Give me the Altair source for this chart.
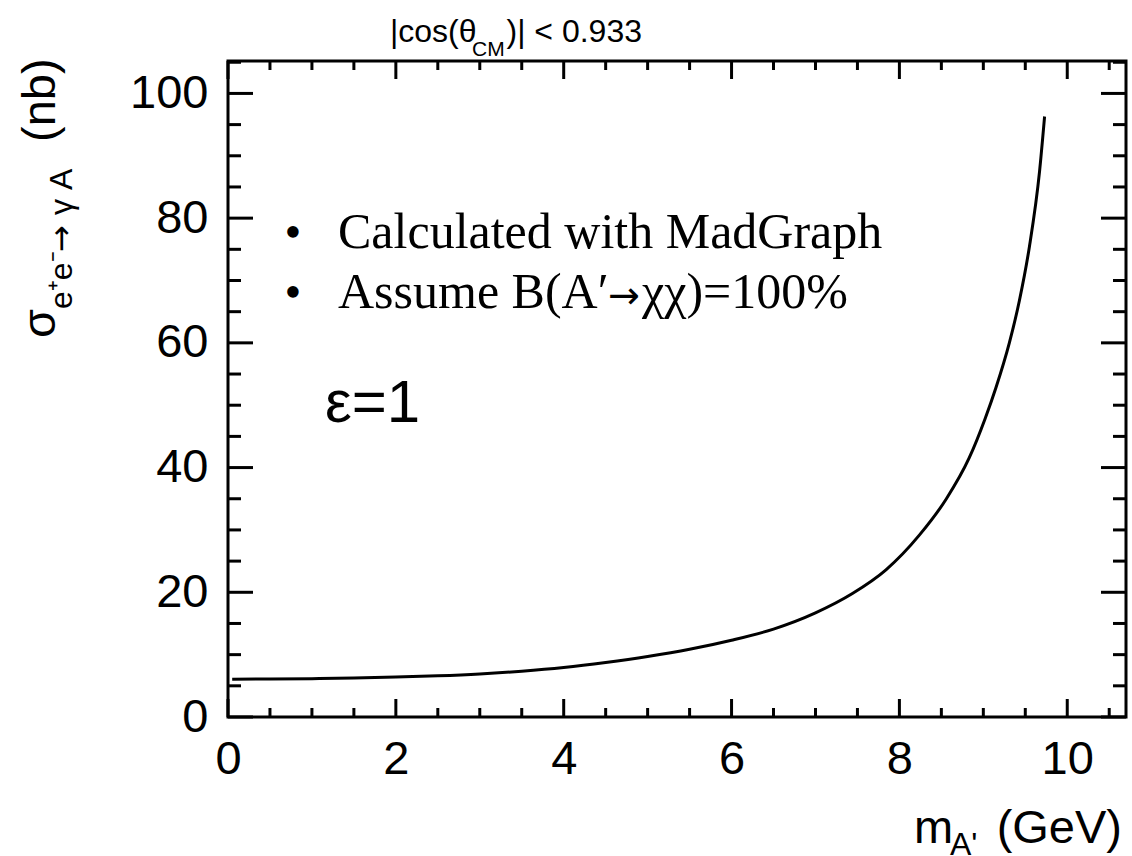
import altair as alt
import pandas as pd

# ---- data ----
mass = [0.05, 0.5, 1.0, 1.5, 2.0, 2.5, 3.0, 3.5, 4.0, 4.5, 5.0, 5.5, 6.0, 6.5,
        7.0, 7.44, 7.84, 8.24, 8.56, 8.83, 9.02, 9.15, 9.31, 9.43, 9.55, 9.67, 9.73]
xsec = [6.05, 6.1, 6.15, 6.25, 6.4, 6.6, 6.9, 7.35, 7.95, 8.75, 9.7, 10.85, 12.3, 14.1,
        16.7, 19.8, 23.6, 29.2, 35.0, 41.5, 47.8, 52.8, 60.0, 66.8, 75.5, 87.5, 96.3]

x_major = [0, 2, 4, 6, 8, 10]
x_minor = [0.5, 1, 1.5, 2.5, 3, 3.5, 4.5, 5, 5.5, 6.5, 7, 7.5, 8.5, 9, 9.5, 10.5]
y_major = [0, 20, 40, 60, 80, 100]
y_minor = [5, 10, 15, 25, 30, 35, 45, 50, 55, 65, 70, 75, 85, 90, 95, 105]

W, H = 898, 656
PL, PT = 228, 61

xs = alt.Scale(domain=[0, 10.7], nice=False, zero=False)
ys = alt.Scale(domain=[0, 105.2], nice=False, zero=False)

SANS = "Liberation Sans"
SERIF = "Liberation Serif"

x_axis = alt.Axis(values=x_major, grid=False, domain=False, ticks=False, title=None,
                  tickSize=0, labelFont=SANS, labelFontSize=47,
                  labelColor="black", labelPadding=19, labelFlush=False,
                  labelOverlap=False)
y_axis = alt.Axis(values=y_major, grid=False, domain=False, ticks=False, title=None,
                  tickSize=0, labelFont=SANS, labelFontSize=47,
                  labelColor="black", labelPadding=20, labelFlush=False,
                  labelOverlap=False)

curve_df = pd.DataFrame({"mass": mass, "xsec": xsec})

curve = alt.Chart(curve_df).mark_line(
    color="black", strokeWidth=3, interpolate="monotone"
).encode(
    x=alt.X("mass:Q", scale=xs, axis=x_axis),
    y=alt.Y("xsec:Q", scale=ys, axis=y_axis),
)


def xticks(vals, length):
    d = pd.DataFrame({"t": vals})
    bottom = alt.Chart(d).mark_rule(color="black", strokeWidth=3).encode(
        x=alt.X("t:Q", scale=xs, axis=x_axis),
        y=alt.value(H), y2=alt.value(H - length))
    top = alt.Chart(d).mark_rule(color="black", strokeWidth=3).encode(
        x=alt.X("t:Q", scale=xs, axis=x_axis),
        y=alt.value(0), y2=alt.value(length))
    return [bottom, top]


def yticks(vals, length):
    d = pd.DataFrame({"t": vals})
    left = alt.Chart(d).mark_rule(color="black", strokeWidth=3).encode(
        y=alt.Y("t:Q", scale=ys, axis=y_axis),
        x=alt.value(0), x2=alt.value(length))
    right = alt.Chart(d).mark_rule(color="black", strokeWidth=3).encode(
        y=alt.Y("t:Q", scale=ys, axis=y_axis),
        x=alt.value(W), x2=alt.value(W - length))
    return [left, right]


def label(text, px, py, size, font=SANS, align="left", angle=0, baseline="alphabetic"):
    kw = dict(text=text, font=font, fontSize=size, align=align,
              baseline=baseline, color="black")
    if angle:
        kw["angle"] = angle
    return alt.Chart(alt.Data(values=[{}])).mark_text(**kw).encode(
        x=alt.value(px - PL), y=alt.value(py - PT))


texts = [
    # top cut text
    label("|cos(θ", 390, 42, 32),
    label("CM", 472, 56, 21),
    label(")| < 0.933", 642, 42, 32, align="right"),
    # legend-like annotation
    label("•", 293, 248, 48, font=SERIF, align="center"),
    label("Calculated with MadGraph", 338, 248, 50, font=SERIF),
    label("•", 293, 308, 48, font=SERIF, align="center"),
    label("Assume B(A′", 338, 308, 50, font=SERIF),
    label("→", 608, 308, 38, font="DejaVu Sans"),
    label("χχ)=100%", 642, 308, 50, font=SERIF),
    label("ε=1", 325, 422, 60),
    # x-axis title
    label("m", 914, 843, 47),
    label("A'", 950, 855, 32),
    label("(GeV)", 1122, 843, 47, align="right"),
    # y-axis title (rotated)
    label("σ", 55, 338, 47, angle=270),
    label("e⁺e⁻", 72, 309, 32, angle=270),
    label("→", 72, 252, 32, font="DejaVu Sans", angle=270),
    label("γ  A", 72, 215, 32, angle=270),
    label("(nb)", 55, 142, 47, angle=270),
]

layers = [curve] + xticks(x_major, 18) + xticks(x_minor, 9) + \
    yticks(y_major, 25) + yticks(y_minor, 13) + texts

chart = alt.layer(*layers).properties(
    width=W, height=H,
    padding={"left": PL, "top": PT, "right": 1132 - PL - W, "bottom": 856 - PT - H},
    autosize=alt.AutoSizeParams(type="none"),
    background="white",
).configure_view(stroke="black", strokeWidth=3)

chart.save("out.html", embed_options={"renderer": "svg", "actions": False})
